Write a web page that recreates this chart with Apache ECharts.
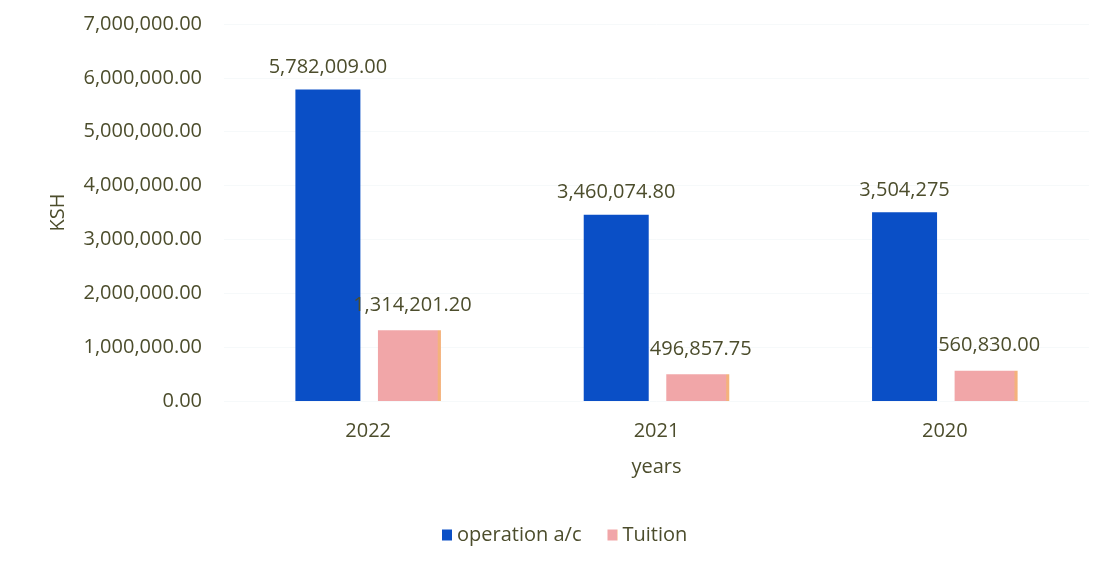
<!DOCTYPE html>
<html>
<head>
<meta charset="utf-8">
<script src="https://cdn.jsdelivr.net/npm/echarts@6/dist/echarts.min.js"></script>
<style>
  html, body { margin: 0; padding: 0; background: #ffffff; }
  #chart { width: 1104px; height: 564px; }
</style>
</head>
<body>
<div id="chart"></div>
<script>
// Fund balances per year (KSH)
const years = ['2022', '2021', '2020'];
const operationAc = [5782009.00, 3460074.80, 3504275];
const tuition = [1314201.20, 496857.75, 560830.00];
// decimals shown in each bar's value label
const operationDecimals = [2, 2, 0];
const tuitionDecimals = [2, 2, 2];
const yTicks = [0, 1000000, 2000000, 3000000, 4000000, 5000000, 6000000, 7000000];

const textColor = '#4c4d2c';
const fontFamily = '"Open Sans", "Noto Sans", sans-serif';
const fs = 20;

function fmt(v, d) {
  return v.toLocaleString('en-US', { minimumFractionDigits: d, maximumFractionDigits: d });
}

const chart = echarts.init(document.getElementById('chart'), null, { renderer: 'canvas' });
chart.setOption({
  backgroundColor: '#ffffff',
  animation: false,
  textStyle: { fontFamily: fontFamily, color: textColor },
  grid: { left: 224, right: 15, top: 24, bottom: 163 },
  legend: {
    bottom: 14,
    left: 437,
    itemWidth: 10,
    itemHeight: 11,
    itemGap: 26,
    icon: 'rect',
    textStyle: { fontSize: fs, color: textColor, fontFamily: fontFamily },
    data: ['operation a/c', 'Tuition']
  },
  xAxis: {
    type: 'category',
    data: years,
    name: 'years',
    nameLocation: 'middle',
    nameGap: 56,
    nameTextStyle: { fontSize: fs, color: textColor },
    axisLine: { show: false },
    axisTick: { show: false },
    axisLabel: { fontSize: fs, color: textColor, margin: 20 }
  },
  yAxis: {
    type: 'value',
    min: yTicks[0],
    max: yTicks[yTicks.length - 1],
    interval: yTicks[1] - yTicks[0],
    name: 'KSH',
    nameLocation: 'middle',
    nameGap: 156,
    nameRotate: 90,
    nameTextStyle: { fontSize: fs, color: textColor },
    axisLine: { show: false },
    axisTick: { show: false },
    splitLine: { lineStyle: { color: '#f6f9fa', width: 1 } },
    axisLabel: {
      fontSize: fs,
      color: textColor,
      margin: 22,
      formatter: v => fmt(v, 2)
    }
  },
  series: [
    {
      name: 'operation a/c',
      type: 'bar',
      data: operationAc,
      barWidth: 65,
      barGap: '27%',
      itemStyle: { color: '#0a4fc6' },
      label: {
        show: true,
        position: 'top',
        distance: 12,
        fontSize: fs,
        color: textColor,
        formatter: p => fmt(p.value, operationDecimals[p.dataIndex])
      }
    },
    {
      name: 'Tuition',
      type: 'bar',
      data: tuition,
      barWidth: 63,
      itemStyle: {
        color: new echarts.graphic.LinearGradient(0, 0, 1, 0, [
          { offset: 0, color: '#f1a6a8' },
          { offset: 0.94, color: '#f1a6a8' },
          { offset: 0.96, color: '#f4b27c' },
          { offset: 1, color: '#f4b27c' }
        ])
      },
      label: {
        show: true,
        position: 'top',
        distance: 15,
        offset: [3, 0],
        fontSize: fs,
        color: textColor,
        formatter: p => fmt(p.value, tuitionDecimals[p.dataIndex])
      }
    }
  ]
});
</script>
</body>
</html>
